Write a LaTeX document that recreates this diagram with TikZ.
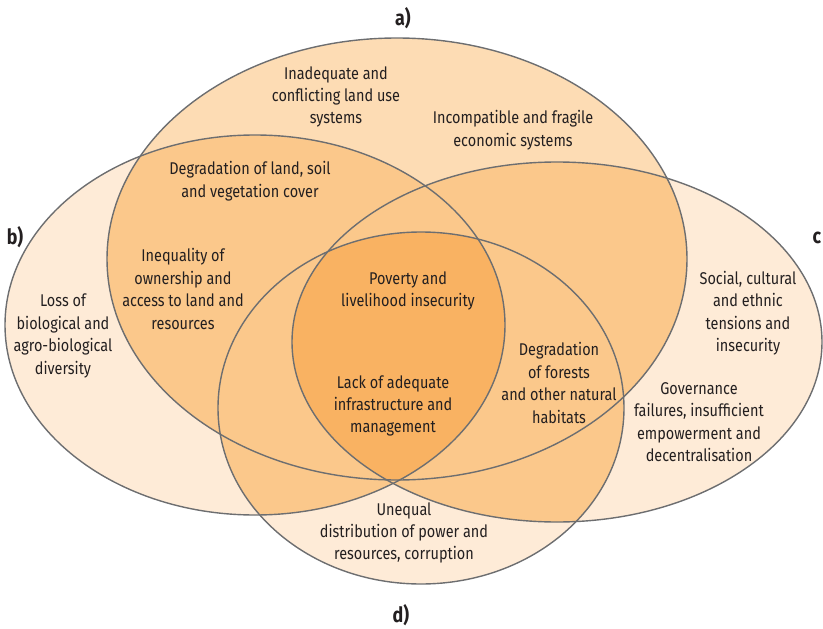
\documentclass[tikz,border=0pt]{standalone}
\usepackage{fontspec}
\setmainfont{Fira Sans}[FakeStretch=0.85]
\definecolor{aone}{HTML}{FDDCB4}
\definecolor{one}{HTML}{FEEBD7}
\definecolor{two}{HTML}{FBC88B}
\definecolor{four}{HTML}{F9B262}
\definecolor{edge}{HTML}{6D6E70}
\definecolor{txt}{HTML}{231F20}
\def\ellA{(397,259) ellipse [x radius=290pt, y radius=221pt]}
\def\ellB{(255,325) ellipse [x radius=250pt, y radius=190pt]}
\def\ellC{(557,342) ellipse [x radius=265pt, y radius=180pt]}
\def\ellD{(421,408) ellipse [x radius=203pt, y radius=176pt]}
\begin{document}
\begin{tikzpicture}[x=1pt,y=-1pt,
  lbl/.style={align=center, font=\fontsize{17}{22.4}\selectfont, text=txt, inner sep=0pt},
  tag/.style={font=\fontsize{21}{24}\selectfont\bfseries, text=txt, inner sep=0pt},
  outline/.style={draw=edge, line width=1.4pt}]
\useasboundingbox (0,0) rectangle (823,629);
% single fills
\fill[one] \ellB; \fill[one] \ellC; \fill[one] \ellD; \fill[aone] \ellA;
% pairwise overlaps
\begin{scope}\clip \ellA; \fill[two] \ellB; \fill[two] \ellC; \fill[two] \ellD; \end{scope}
\begin{scope}\clip \ellB; \fill[two] \ellC; \fill[two] \ellD; \end{scope}
\begin{scope}\clip \ellC; \fill[two] \ellD; \end{scope}
% four-way overlap
\begin{scope}\clip \ellA; \clip \ellB; \clip \ellC; \fill[four] \ellD; \end{scope}
% outlines
\draw[outline] \ellA; \draw[outline] \ellB; \draw[outline] \ellC; \draw[outline] \ellD;
% labels
\node[tag] (la) at (403,18) {a)};
\node[tag] (lb) at (15,237) {b)};
\node[tag] (lc) at (817,238) {c};
\node[tag] (ld) at (401,615) {d)};
% texts
\node[lbl] (t1) at (336,97) {Inadequate and\\conflicting land use\\systems};
\node[lbl] (t2) at (513,130) {Incompatible and fragile\\economic systems};
\node[lbl] (t3) at (250,181) {Degradation of land, soil\\and vegetation cover};
\node[lbl] (t4) at (183,289) {Inequality of\\ownership and\\access to land and\\resources};
\node[lbl] (t5) at (63,336) {Loss of\\biological and\\agro-biological\\diversity};
\node[lbl] (t6) at (408,291) {Poverty and\\livelihood insecurity};
\node[lbl] (t7) at (393,406) {Lack of adequate\\infrastructure and\\management};
\node[lbl] (t8) at (559,383) {Degradation\\of forests\\and other natural\\habitats};
\node[lbl] (t9) at (748,313) {Social, cultural\\and ethnic\\tensions and\\insecurity};
\node[lbl] (t10) at (699,422) {Governance\\failures, insufficient\\empowerment and\\decentralisation};
\node[lbl] (t11) at (404,533) {Unequal\\distribution of power and\\resources, corruption};
\end{tikzpicture}
\end{document}
